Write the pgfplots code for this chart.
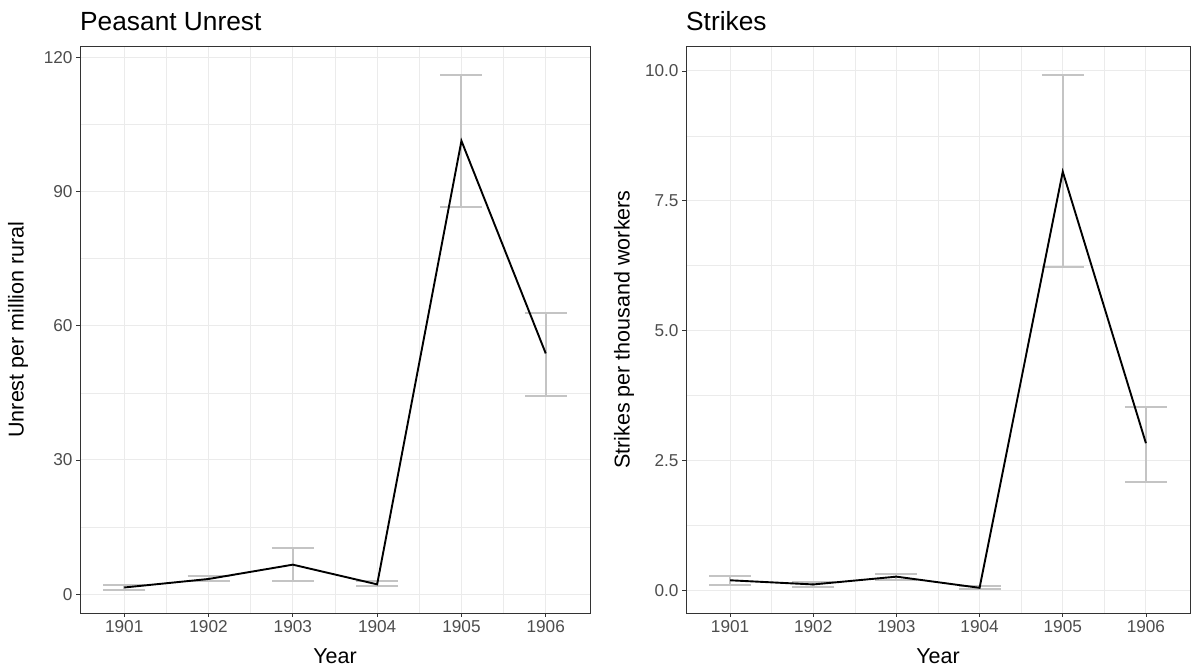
\documentclass[border=0pt]{standalone}
\usepackage{fontspec}
\setmainfont{Liberation Sans}
\usepackage{pgfplots}
\usepackage{pgfplotstable}
\pgfplotsset{compat=1.18}
\definecolor{gridc}{HTML}{EBEBEB}
\definecolor{errc}{HTML}{C4C4C4}
\definecolor{tickc}{HTML}{4D4D4D}
\definecolor{framec}{HTML}{333333}

\pgfplotstableread{
year val ep em
1901 1.5 0.5 0.5
1902 3.4 0.7 0.5
1903 6.6 3.7 3.7
1904 2.2 0.7 0.4
1905 101.3 14.7 14.8
1906 53.8 9.1 9.4
}\unrest

\pgfplotstableread{
year val ep em
1901 0.19 0.09 0.09
1902 0.11 0.04 0.04
1903 0.26 0.06 0.06
1904 0.045 0.035 0.025
1905 8.06 1.87 1.83
1906 2.83 0.70 0.74
}\strikes

\pgfplotsset{ggstyle/.style={
  scale only axis, height=567pt,
  /pgf/number format/assume math mode=true,
  axis line style={framec, line width=0.8pt},
  tick style={framec, line width=0.8pt},
  tick align=outside, major tick length=4pt, minor tick length=0pt,
  xtick pos=bottom, ytick pos=left,
  grid=both,
  major grid style={gridc, line width=1.1pt},
  minor grid style={gridc, line width=0.55pt},
  xtick={1901,1902,1903,1904,1905,1906}, minor x tick num=1, minor y tick num=1,
  xticklabel style={/pgf/number format/1000 sep={}, font=\fontsize{17.2}{19}\selectfont, color=tickc},
  yticklabel style={font=\fontsize{17.2}{19}\selectfont, color=tickc},
  xlabel={Year},
  every axis x label/.style={at={([yshift=-43pt]rel axis cs:0.5,0)}, anchor=center, font=\fontsize{21.5}{24}\selectfont},
  every axis y label/.style={at={([xshift=-62pt]rel axis cs:0,0.5)}, anchor=center, rotate=90, font=\fontsize{21.5}{24}\selectfont},
  every axis title/.style={at={([yshift=15pt]rel axis cs:0,1)}, anchor=base west, inner sep=0pt, font=\fontsize{26.3}{28}\selectfont},
}}
\pgfplotsset{errstyle/.style={draw=none, mark=none,
  error bars/.cd, y dir=both, y explicit,
  error bar style={draw=errc, line width=2pt},
  error mark=|, error mark options={draw=errc, line width=2pt, mark size=21pt}}}

\begin{document}
\begin{tikzpicture}
\path[use as bounding box] (0,0) rectangle (1192pt,667pt);
\begin{axis}[ggstyle, at={(80pt,54pt)}, anchor=south west, width=510pt,
  xmin=1900.475, xmax=1906.525,
  ymin=-4.2, ymax=122.5, ytick={0,30,60,90,120},
  ylabel={Unrest per million rural}, title={Peasant Unrest}]
\addplot[errstyle] table[x=year, y=val, y error plus=ep, y error minus=em]{\unrest};
\addplot[black, line width=1.9pt, mark=none] table[x=year, y=val]{\unrest};
\end{axis}
\begin{axis}[ggstyle, at={(686pt,54pt)}, anchor=south west, width=504pt,
  xmin=1900.47, xmax=1906.53,
  ymin=-0.44, ymax=10.48, ytick={0,2.5,5,7.5,10},
  yticklabel style={/pgf/number format/fixed, /pgf/number format/precision=1, /pgf/number format/fixed zerofill},
  ylabel={Strikes per thousand workers}, title={Strikes}]
\addplot[errstyle] table[x=year, y=val, y error plus=ep, y error minus=em]{\strikes};
\addplot[black, line width=1.9pt, mark=none] table[x=year, y=val]{\strikes};
\end{axis}
\end{tikzpicture}
\end{document}
